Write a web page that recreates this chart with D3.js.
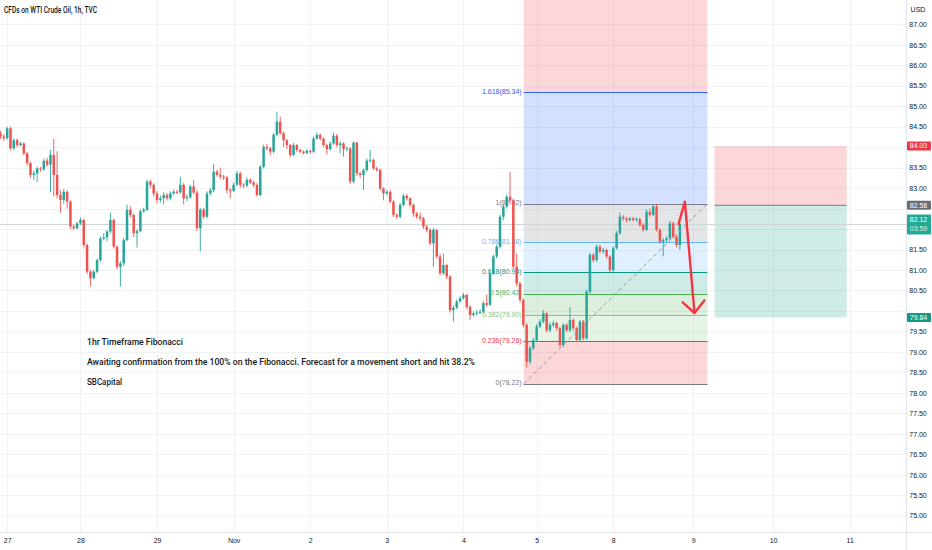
<!DOCTYPE html>
<html><head><meta charset="utf-8">
<script src="https://cdn.jsdelivr.net/npm/d3@7"></script>
<style>
body{margin:0;background:#fff;}
svg{display:block;font-family:"Liberation Sans",Arial,sans-serif;}
</style>
</head><body>
<svg id="c" width="932" height="550"></svg>
<script>
// ---------- data ----------
const title = "CFDs on WTI Crude Oil, 1h, TVC";
const currency = "USD";
const dayLabels = ["27","28","29","Nov","2","3","4","5","8","9","10","11"];
const dayStartBars = [2,24,47,70,93,116,139,161,184,208,232,255];
const priceTicks = [75.00,75.50,76.00,76.50,77.00,77.50,78.00,78.50,79.00,79.50,80.00,80.50,81.00,81.50,82.00,82.50,83.00,83.50,84.00,84.50,85.00,85.50,86.00,86.50,87.00];
const firstOpen = 84.34;
const closes = [
84.26,84.22,84.46,83.97,84.17,84.05,84.09,83.85,83.61,83.32,
83.36,83.48,83.46,83.67,83.57,83.81,83.32,82.83,82.71,82.91,
82.67,82.06,82.02,82.14,82.22,81.61,80.96,80.80,80.96,81.24,
81.77,81.80,81.94,82.22,81.57,81.08,81.16,81.73,82.47,82.34,
81.90,81.95,82.43,82.47,83.16,83.08,82.87,82.71,82.75,82.83,
82.75,82.87,82.91,82.90,83.08,82.75,82.78,83.04,82.89,82.02,
82.47,82.30,82.87,82.95,83.40,83.32,83.28,83.26,82.95,82.93,
83.08,83.36,83.08,83.06,83.20,83.14,83.08,82.83,83.52,84.01,
83.97,83.89,84.30,84.62,84.34,84.17,84.05,83.81,84.05,83.93,
83.89,83.86,83.91,83.89,84.21,84.30,84.21,84.05,83.95,84.09,
84.28,84.05,84.09,83.95,83.97,83.16,84.11,83.36,83.32,83.44,
83.67,83.69,83.48,83.44,82.99,82.87,82.91,82.67,82.34,82.30,
82.59,82.81,82.75,82.59,82.38,82.30,82.26,82.06,81.98,81.65,
81.98,81.33,80.92,81.12,80.84,80.02,80.08,80.23,80.31,80.39,
80.10,79.90,79.94,79.96,79.98,80.19,80.15,80.92,81.33,81.57,
82.30,82.55,82.79,82.70,81.08,80.67,80.27,79.66,78.76,79.09,
79.29,79.62,79.74,79.94,79.53,79.66,79.70,79.58,79.17,79.66,
79.53,79.78,79.58,79.29,79.74,79.33,80.47,81.37,81.24,81.57,
81.45,81.49,81.33,81.00,81.53,81.90,82.30,82.26,82.22,82.26,
82.22,82.24,82.10,81.98,82.42,82.35,82.55,81.98,81.69,81.73,
81.77,82.14,81.81,81.61,82.12];
const highs = [
84.40,84.32,84.50,84.50,84.22,84.21,84.13,84.12,83.88,83.64,
83.42,83.52,83.52,83.72,83.74,83.93,84.20,83.90,82.95,82.98,
82.95,82.70,82.10,82.18,82.28,82.25,81.65,81.00,81.00,81.28,
81.82,81.90,81.98,82.40,82.25,81.60,81.22,81.78,82.60,82.55,
82.38,82.00,82.48,82.52,83.20,83.20,83.12,82.92,82.82,82.90,
82.88,82.92,82.96,82.96,83.28,83.12,82.85,83.08,83.20,82.95,
82.52,82.52,82.92,83.00,83.60,83.45,83.50,83.32,83.30,83.00,
83.14,83.42,83.40,83.12,83.26,83.24,83.18,83.12,83.56,84.06,
84.08,84.00,84.35,84.87,84.75,84.38,84.20,84.08,84.10,84.08,
83.96,83.92,83.95,83.94,84.26,84.36,84.34,84.24,84.08,84.14,
84.35,84.32,84.14,84.12,84.02,84.00,84.14,84.14,83.40,83.48,
83.72,83.93,83.72,83.52,83.48,83.02,82.96,82.95,82.70,82.38,
82.64,82.86,82.86,82.78,82.62,82.42,82.40,82.30,82.10,82.02,
82.03,82.00,81.40,81.40,81.15,80.88,80.14,80.28,80.36,80.44,
80.42,80.14,79.99,80.02,80.04,80.24,80.40,80.96,81.38,81.62,
82.35,82.60,82.84,83.40,82.74,81.40,80.72,80.30,79.70,79.14,
79.34,79.68,79.80,80.02,79.98,79.72,79.76,79.74,79.62,79.70,
79.70,80.10,79.82,79.62,79.78,79.78,80.52,81.42,81.42,81.62,
81.62,81.54,81.52,81.36,81.58,81.95,82.40,82.34,82.30,82.30,
82.30,82.28,82.28,82.14,82.48,82.50,82.60,82.62,82.02,81.78,
81.82,82.20,82.18,81.86,82.16];
const lows = [
84.20,84.15,84.18,83.92,83.93,84.00,84.02,83.80,83.55,83.25,
83.20,83.15,83.40,83.42,83.52,82.90,82.80,82.75,82.40,82.62,
82.50,82.00,81.98,81.99,82.10,81.55,80.90,80.60,80.77,80.92,
81.20,81.72,81.70,81.90,81.52,81.02,80.60,81.10,81.70,82.28,
81.80,81.55,81.92,82.40,82.44,83.00,82.80,82.62,82.65,82.60,
82.70,82.70,82.84,82.85,82.86,82.60,82.68,82.74,82.85,81.95,
81.45,82.25,82.26,82.82,82.90,83.28,83.22,83.20,82.88,82.75,
82.90,83.05,83.00,83.00,83.02,83.10,83.02,82.80,82.80,83.48,
83.92,83.80,83.85,84.26,84.30,84.00,83.95,83.76,83.78,83.88,
83.85,83.82,83.82,83.84,83.86,84.18,84.16,84.00,83.82,83.92,
84.06,84.00,83.85,83.77,83.90,83.10,83.12,83.30,83.25,82.95,
83.40,83.62,83.44,83.40,82.94,82.70,82.82,82.62,82.30,82.25,
82.26,82.55,82.70,82.54,82.30,82.25,82.20,82.00,81.92,81.60,
81.08,81.28,80.86,80.88,80.78,79.96,79.74,80.04,80.20,80.28,
80.05,79.78,79.86,79.90,79.92,79.94,80.10,80.12,80.88,81.28,
81.52,82.22,82.50,82.62,81.02,80.60,80.20,79.60,78.62,78.70,
79.04,79.25,79.58,79.70,79.48,79.48,79.60,79.52,79.12,79.12,
79.48,79.48,79.52,79.24,79.24,79.28,79.30,80.42,81.18,81.20,
81.40,81.40,81.28,80.95,80.96,81.50,81.86,82.20,82.16,82.18,
82.18,82.18,82.05,81.92,81.95,82.30,82.32,81.94,81.64,81.33,
81.68,81.74,81.76,81.55,81.49];
const lastPrice = 82.12;
const countdown = "03:59";

// Fibonacci retracement drawing (bar index / price anchors)
const fibBars = [157.1, 212.3];
const fibPrices = [78.22, 82.62];
const fibLevels = [0, 0.236, 0.382, 0.5, 0.618, 0.786, 1, 1.618, 2.618];
const fibColors = ["#787b86","#f23645","#81c784","#4caf50","#089981","#64b5f6","#787b86","#2962ff","#f23645"];

// Short position drawing
const posBars = [214.4, 254.1];
const posEntry = 82.58, posStop = 84.03, posTarget = 79.84;

// Red arrow drawing
const arrowBars = [203.6, 205.5, 208.4];
const arrowPrices = [82.12, 82.67, 79.95];

const notes = ["1hr Timeframe Fibonacci",
  "Awaiting confirmation from the 100% on the Fibonacci. Forecast for a movement short and hit 38.2%",
  "SBCapital"];

// ---------- layout ----------
const W = 932, H = 550, plotR = 906, plotB = 532;
const svg = d3.select("#c");
const x = d3.scaleLinear().domain([0, 272]).range([0.5, 906.3]);
const y = d3.scaleLinear().domain([75, 87]).range([515.7, 24.3]);

svg.append("rect").attr("width", W).attr("height", H).attr("fill", "#fff");
svg.append("defs").append("clipPath").attr("id","plot")
  .append("rect").attr("x",0).attr("y",0).attr("width",plotR).attr("height",plotB);

const plot = svg.append("g").attr("clip-path","url(#plot)");

// grid
plot.append("g").selectAll("line").data(priceTicks).join("line")
  .attr("x1",0).attr("x2",plotR).attr("y1",d=>Math.round(y(d))+0.5).attr("y2",d=>Math.round(y(d))+0.5)
  .attr("stroke","#f0f2f5").attr("stroke-width",1);
plot.append("g").selectAll("line").data(dayStartBars).join("line")
  .attr("y1",0).attr("y2",plotB).attr("x1",d=>Math.round(x(d))+0.5).attr("x2",d=>Math.round(x(d))+0.5)
  .attr("stroke","#f0f2f5").attr("stroke-width",1);

// fib fills
const fx0 = x(fibBars[0]), fx1 = x(fibBars[1]);
const fibPrice = l => fibPrices[0] + l * (fibPrices[1] - fibPrices[0]);
const fg = plot.append("g");
for (let k = 1; k < fibLevels.length; k++) {
  const yTop = y(fibPrice(fibLevels[k])), yBot = y(fibPrice(fibLevels[k-1]));
  fg.append("rect").attr("x",fx0).attr("width",fx1-fx0).attr("y",yTop).attr("height",yBot-yTop)
    .attr("fill",fibColors[k]).attr("fill-opacity",0.2);
}

// position fills
const px0 = x(posBars[0]), px1 = x(posBars[1]);
plot.append("rect").attr("x",px0).attr("width",px1-px0).attr("y",y(posStop)).attr("height",y(posEntry)-y(posStop))
  .attr("fill","#f23645").attr("fill-opacity",0.2);
plot.append("rect").attr("x",px0).attr("width",px1-px0).attr("y",y(posEntry)).attr("height",y(posTarget)-y(posEntry))
  .attr("fill","#089981").attr("fill-opacity",0.2);
plot.append("line").attr("x1",px0).attr("x2",px1).attr("y1",y(posEntry)).attr("y2",y(posEntry))
  .attr("stroke","#787b86").attr("stroke-width",1);

// last price line
plot.append("line").attr("x1",0).attr("x2",plotR).attr("y1",Math.round(y(lastPrice))+0.5).attr("y2",Math.round(y(lastPrice))+0.5)
  .attr("stroke","#cfd3da").attr("stroke-width",1);

// fib lines
fibLevels.forEach((l,k) => {
  const yy = Math.round(y(fibPrice(l))) + 0.5;
  fg.append("line").attr("x1",fx0).attr("x2",fx1).attr("y1",yy).attr("y2",yy)
    .attr("stroke",fibColors[k]).attr("stroke-width",1);
});
// fib labels
fibLevels.forEach((l,k) => {
  if (l > 2) return;
  fg.append("text").attr("x",fx0-2).attr("y",y(fibPrice(l))+1.5)
    .attr("text-anchor","end").attr("font-size",7).attr("fill",fibColors[k])
    .text(`${l}(${fibPrice(l).toFixed(2)})`);
});

// candles
const up = "#26a69a", dn = "#ef5350";
const cg = plot.append("g");
closes.forEach((c,i) => {
  const o = i === 0 ? firstOpen : closes[i-1];
  const h = Math.max(highs[i], o, c), l = Math.min(lows[i], o, c);
  const col = c >= o ? up : dn;
  const cx = x(i);
  cg.append("line").attr("x1",cx).attr("x2",cx).attr("y1",y(h)).attr("y2",y(l))
    .attr("stroke",col).attr("stroke-width",0.9);
  const yt = y(Math.max(o,c)), yb = y(Math.min(o,c));
  cg.append("rect").attr("x",cx-1.25).attr("width",2.5).attr("y",yt).attr("height",Math.max(1,yb-yt))
    .attr("fill",col);
});

// dashed trend line of fib
plot.append("line").attr("x1",fx0).attr("y1",y(fibPrices[0])).attr("x2",fx1).attr("y2",y(fibPrices[1]))
  .attr("stroke","#9598a1").attr("stroke-width",1).attr("stroke-dasharray","4,3");

// red arrow
const pts = arrowBars.map((b,k) => [x(b), y(arrowPrices[k])]);
plot.append("path").attr("d", d3.line()(pts)).attr("fill","none").attr("stroke","#f23645")
  .attr("stroke-width",2.4).attr("stroke-linejoin","round").attr("stroke-linecap","round");
{
  const [ex,ey] = pts[pts.length-1], [sx,sy] = pts[pts.length-2];
  const ang = Math.atan2(sy-ey, sx-ex), len = 16, spread = 0.75;
  const h1 = [ex + len*Math.cos(ang+spread), ey + len*Math.sin(ang+spread)];
  const h2 = [ex + len*Math.cos(ang-spread), ey + len*Math.sin(ang-spread)];
  plot.append("path").attr("d", d3.line()([h1,[ex,ey],h2])).attr("fill","none").attr("stroke","#f23645")
    .attr("stroke-width",2.4).attr("stroke-linejoin","round").attr("stroke-linecap","round");
}

// notes
const noteLen = [96, 388, 35];
const noteY = [345, 365, 384.5];
notes.forEach((t,k) => {
  svg.append("text").attr("x",87).attr("y",noteY[k]).attr("font-size",8.4).attr("fill","#131722")
    .attr("font-family","Roboto, Liberation Sans, Arial, sans-serif").attr("font-weight",500)
    .attr("textLength",noteLen[k]).attr("lengthAdjust","spacingAndGlyphs").text(t);
});

// title
svg.append("text").attr("x",4).attr("y",13).attr("font-size",8.2).attr("fill","#131722")
  .attr("font-family","Roboto, Liberation Sans, Arial, sans-serif").attr("font-weight",500)
  .attr("textLength",93).attr("lengthAdjust","spacingAndGlyphs").text(title);

// axes lines
svg.append("line").attr("x1",plotR+0.5).attr("x2",plotR+0.5).attr("y1",0).attr("y2",H).attr("stroke","#e0e3eb");
svg.append("line").attr("x1",0).attr("x2",W).attr("y1",plotB+0.5).attr("y2",plotB+0.5).attr("stroke","#e0e3eb");

// price axis (labels hidden where a price tag covers them)
const tagPrices = [posStop, posEntry, lastPrice, posTarget];
const tagHalf = [4.5, 4.5, 10, 4.5];
const covered = d => tagPrices.some((p,k) => Math.abs(y(d) - y(p) - (k===2?0.4:0)) < tagHalf[k] + 2.5);
const yAxis = d3.axisRight(y).tickValues(priceTicks.filter(d => !covered(d))).tickSize(0).tickPadding(0)
  .tickFormat(d3.format(".2f"));
const ya = svg.append("g").attr("transform",`translate(918,0)`).call(yAxis);
ya.select(".domain").remove();
ya.selectAll("text").attr("text-anchor","middle").attr("font-size",7).attr("fill","#131722")
  .attr("font-family","Liberation Sans, Arial, sans-serif");
svg.append("text").attr("x",918).attr("y",12).attr("text-anchor","middle").attr("font-size",7)
  .attr("fill","#131722").text(currency);

// time axis
const xAxis = d3.axisBottom(x).tickValues(dayStartBars).tickSize(0).tickPadding(0)
  .tickFormat((d,i) => dayLabels[i]);
const xa = svg.append("g").attr("transform",`translate(0,538)`).call(xAxis);
xa.select(".domain").remove();
xa.selectAll("text").attr("font-size",7).attr("fill","#131722")
  .attr("font-family","Liberation Sans, Arial, sans-serif");

// price labels on axis
function tag(price, color, lines, hgt) {
  const cy = y(price);
  const g = svg.append("g");
  const top = lines.length > 1 ? cy - 9.6 : cy - hgt/2;
  g.append("rect").attr("x",plotR+1).attr("y",top).attr("width",W-plotR-2).attr("height",hgt)
    .attr("fill",color).attr("rx",1);
  lines.forEach((t,k) => {
    g.append("text").attr("x",918.5).attr("y",top + 7 + k*9.2).attr("text-anchor","middle")
      .attr("font-size",7).attr("fill","#fff").attr("fill-opacity",k>0?0.85:1).text(t);
  });
}
tag(posStop, "#f23645", [posStop.toFixed(2)], 9);
tag(posEntry, "#6a6d78", [posEntry.toFixed(2)], 9);
tag(lastPrice, "#22ab94", [lastPrice.toFixed(2), countdown], 20);
tag(posTarget, "#169982", [posTarget.toFixed(2)], 9);
</script>
</body></html>
